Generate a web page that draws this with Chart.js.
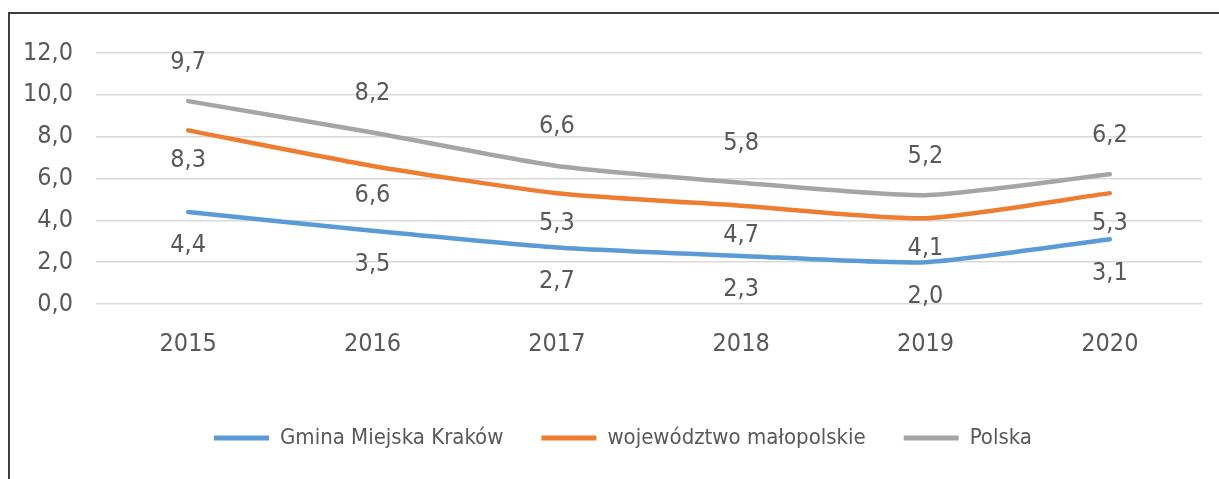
<!DOCTYPE html>
<html>
<head>
<meta charset="utf-8">
<script src="https://cdn.jsdelivr.net/npm/chart.js@4"></script>
<style>
  html, body { margin: 0; padding: 0; background: #ffffff; overflow: hidden; }
  #wrap { position: relative; width: 1219px; height: 479px; }
  #frame { position: absolute; left: 8px; top: 12px; width: 1300px; height: 600px;
           border-top: 2px solid #3f3f3f; border-left: 2px solid #3f3f3f; pointer-events: none; }
  canvas { position: absolute; left: 0; top: 0; }
</style>
</head>
<body>
<div id="wrap">
  <canvas id="c" width="1219" height="479"></canvas>
  <div id="frame"></div>
</div>
<script>
const years = ['2015', '2016', '2017', '2018', '2019', '2020'];
const krakow = [4.4, 3.5, 2.7, 2.3, 2.0, 3.1];
const malopolskie = [8.3, 6.6, 5.3, 4.7, 4.1, 5.3];
const polska = [9.7, 8.2, 6.6, 5.8, 5.2, 6.2];
const seriesNames = ['Gmina Miejska Kraków', 'województwo małopolskie', 'Polska'];
const yTicks = [0, 2, 4, 6, 8, 10, 12];

const FONT = '"Liberation Sans Narrow", "DejaVu Sans Condensed", "Arial Narrow", sans-serif';
const TEXT = '#595959';
const fmt = v => v.toFixed(1).replace('.', ',');

const labelPlugin = {
  id: 'valueLabels',
  afterDatasetsDraw(chart) {
    const ctx = chart.ctx;
    ctx.save();
    ctx.font = '25px ' + FONT;
    ctx.fillStyle = TEXT;
    ctx.textAlign = 'center';
    ctx.textBaseline = 'middle';
    chart.data.datasets.forEach((ds, i) => {
      const meta = chart.getDatasetMeta(i);
      meta.data.forEach((pt, j) => {
        ctx.fillText(fmt(ds.data[j]), pt.x, pt.y + ds.labelOffset);
      });
    });
    ctx.restore();
  }
};

// shift the legend so it is centred like in the original
const legendShift = {
  id: 'legendShift',
  afterLayout(chart) {
    if (chart.legend) {
      chart.legend.left += 22;
      chart.legend.right += 22;
    }
  }
};

new Chart(document.getElementById('c'), {
  type: 'line',
  data: {
    labels: years,
    datasets: [
      { label: seriesNames[0], data: krakow, borderColor: '#5B9BD5', backgroundColor: '#5B9BD5', labelOffset: 34 },
      { label: seriesNames[1], data: malopolskie, borderColor: '#ED7D31', backgroundColor: '#ED7D31', labelOffset: 30 },
      { label: seriesNames[2], data: polska, borderColor: '#A5A5A5', backgroundColor: '#A5A5A5', labelOffset: -39 }
    ]
  },
  options: {
    responsive: false,
    animation: false,
    devicePixelRatio: 1,
    layout: { padding: { top: 53, right: 17, bottom: 20, left: 0 } },
    elements: {
      line: { borderWidth: 4.5, tension: 0.2, borderCapStyle: 'round', borderJoinStyle: 'round' },
      point: { radius: 0, hoverRadius: 0 }
    },
    scales: {
      x: {
        offset: true,
        grid: { display: false, drawTicks: false },
        border: { display: false },
        ticks: { color: TEXT, font: { family: FONT, size: 25 }, padding: 25, maxRotation: 0 },
        afterFit(scale) { scale.height = 85; }
      },
      y: {
        min: 0, max: 12,
        grid: { color: '#d9d9d9', lineWidth: 1.5, drawTicks: false },
        border: { display: false },
        afterBuildTicks(scale) { scale.ticks = yTicks.map(v => ({ value: v })); },
        ticks: { color: TEXT, font: { family: FONT, size: 25 }, padding: 23, callback: v => fmt(v) },
        afterFit(scale) { scale.width = 96; }
      }
    },
    plugins: {
      tooltip: { enabled: false },
      legend: {
        position: 'bottom',
        labels: {
          color: TEXT,
          font: { family: FONT, size: 22 },
          boxWidth: 55,
          boxHeight: 5,
          padding: 38,
          generateLabels(chart) {
            return chart.data.datasets.map((ds, i) => ({
              text: ds.label, fillStyle: ds.borderColor, strokeStyle: ds.borderColor,
              lineWidth: 0, fontColor: TEXT, datasetIndex: i, hidden: false
            }));
          }
        }
      }
    }
  },
  plugins: [labelPlugin, legendShift]
});
</script>
</body>
</html>
